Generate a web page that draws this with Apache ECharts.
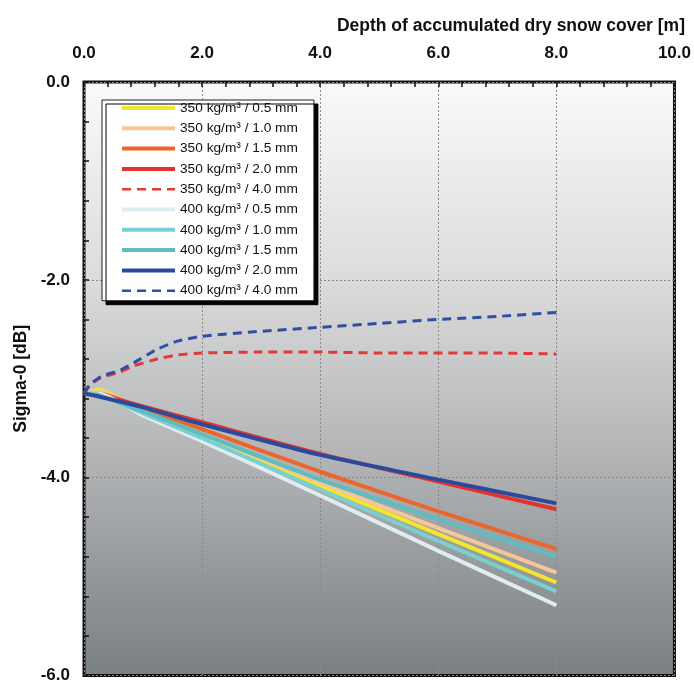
<!DOCTYPE html>
<html>
<head>
<meta charset="utf-8">
<script src="https://cdn.jsdelivr.net/npm/echarts@6/dist/echarts.min.js"></script>
<style>html,body{margin:0;padding:0;background:#fff;}#c{width:694px;height:684px;}</style>
</head>
<body>
<div id="c"></div>
<script>
// Depth (m) sample positions
const xSolid = [0, 0.25, 1, 2, 4, 6, 8];
const xDashed = [0, 0.1, 0.28, 0.62, 0.84, 1.24, 1.58, 2, 3, 4, 5, 6, 7, 8];

// Sigma-0 (dB) series
const s350_05 = [-3.15, -3.11, -3.33, -3.58, -4.08, -4.57, -5.06];
const s350_10 = [-3.15, -3.13, -3.32, -3.56, -4.05, -4.51, -4.96];
const s350_15 = [-3.15, -3.15, -3.30, -3.51, -3.94, -4.34, -4.72];
const s350_20 = [-3.15, -3.16, -3.28, -3.44, -3.76, -4.04, -4.32];
const s350_40 = [-3.15, -3.06, -2.99, -2.93, -2.87, -2.80, -2.76, -2.74, -2.73, -2.73, -2.74, -2.74, -2.74, -2.75];
const s400_05 = [-3.15, -3.15, -3.37, -3.63, -4.18, -4.74, -5.29];
const s400_10 = [-3.15, -3.16, -3.35, -3.60, -4.12, -4.64, -5.15];
const s400_15 = [-3.15, -3.17, -3.33, -3.56, -4.02, -4.42, -4.80];
const s400_20 = [-3.15, -3.18, -3.29, -3.46, -3.77, -4.02, -4.26];
const s400_40 = [-3.15, -3.06, -2.98, -2.91, -2.84, -2.70, -2.62, -2.57, -2.52, -2.48, -2.44, -2.40, -2.37, -2.33];

const seriesNames = [
  '350 kg/m³ / 0.5 mm', '350 kg/m³ / 1.0 mm', '350 kg/m³ / 1.5 mm', '350 kg/m³ / 2.0 mm', '350 kg/m³ / 4.0 mm',
  '400 kg/m³ / 0.5 mm', '400 kg/m³ / 1.0 mm', '400 kg/m³ / 1.5 mm', '400 kg/m³ / 2.0 mm', '400 kg/m³ / 4.0 mm'
];
const seriesValues = [s350_05, s350_10, s350_15, s350_20, s350_40, s400_05, s400_10, s400_15, s400_20, s400_40];
const seriesDashed = [false, false, false, false, true, false, false, false, false, true];
const seriesColors = ['#f2e62e', '#f6c698', '#e9672c', '#e2332f', '#e23a36', '#ddedf0', '#7acfcf', '#5fbdbf', '#2b4a9c', '#2e4fa2'];

const xTicks = [0, 2, 4, 6, 8, 10];
const yTicks = [0, -2, -4, -6];

const font = '"Liberation Sans", Arial, sans-serif';

const series = seriesNames.map((name, i) => {
  const xs = seriesDashed[i] ? xDashed : xSolid;
  return {
    name: name,
    type: 'line',
    data: seriesValues[i].map((v, k) => [xs[k], v]),
    showSymbol: false,
    symbol: 'none',
    smooth: seriesDashed[i] ? 0.12 : 0.2,
    color: seriesColors[i],
    lineStyle: {
      width: seriesDashed[i] ? 3 : 4,
      type: seriesDashed[i] ? [9, 6] : 'solid',
      color: seriesColors[i]
    },
    z: seriesDashed[i] ? 4 : 3
  };
});

const legendData = seriesNames.map((name, i) => ({
  name: name,
  itemStyle: {color: 'rgba(0,0,0,0)', borderWidth: 0, opacity: 0},
  lineStyle: {
    width: seriesDashed[i] ? 2.5 : 4,
    color: seriesColors[i],
    type: seriesDashed[i] ? [9, 6] : 'solid'
  }
}));

const chart = echarts.init(document.getElementById('c'), null, {renderer: 'canvas'});
chart.setOption({
  animation: false,
  backgroundColor: '#ffffff',
  title: {
    text: 'Depth of accumulated dry snow cover [m]',
    right: 4,
    top: 12,
    textStyle: {fontFamily: font, fontWeight: 'bold', fontSize: 17.5, color: '#111'}
  },
  grid: {
    left: 84, right: 15, top: 82, bottom: 5,
    show: true,
    borderColor: '#111',
    borderWidth: 3,
    backgroundColor: {
      type: 'linear', x: 0, y: 0, x2: 0, y2: 1,
      colorStops: [
        {offset: 0, color: '#fafafa'},
        {offset: 0.33, color: '#dcdcdc'},
        {offset: 0.66, color: '#aeb0b2'},
        {offset: 1, color: '#7a7f83'}
      ]
    }
  },
  legend: {
    orient: 'vertical',
    left: 102,
    top: 100,
    itemWidth: 53,
    itemHeight: 14,
    itemGap: 6.3,
    padding: [1, 16, 3, 18],
    backgroundColor: '#ffffff',
    borderColor: '#222',
    borderWidth: 1,
    shadowColor: '#000',
    shadowBlur: 0,
    shadowOffsetX: 4,
    shadowOffsetY: 4,
    textStyle: {fontFamily: font, fontSize: 13.7, color: '#111'},
    data: legendData
  },
  xAxis: {
    type: 'value',
    position: 'top',
    min: xTicks[0],
    max: xTicks[xTicks.length - 1],
    interval: 2,
    axisLine: {show: false},
    axisTick: {show: true, inside: true, length: 5, lineStyle: {color: '#111', width: 1.5}},
    minorTick: {show: true, splitNumber: 5, length: 5, lineStyle: {color: '#111', width: 1.5}},
    axisLabel: {
      margin: 20,
      fontFamily: font, fontWeight: 'bold', fontSize: 17, color: '#111',
      formatter: v => v.toFixed(1)
    },
    splitLine: {show: true, lineStyle: {color: '#8a8a8a', type: [2, 2], width: 1}}
  },
  yAxis: {
    type: 'value',
    min: yTicks[yTicks.length - 1],
    max: yTicks[0],
    interval: 2,
    name: 'Sigma-0 [dB]',
    nameLocation: 'middle',
    nameGap: 54,
    nameTextStyle: {fontFamily: font, fontWeight: 'bold', fontSize: 17.5, color: '#111'},
    axisLine: {show: false},
    axisTick: {show: true, inside: true, length: 5, lineStyle: {color: '#111', width: 1.5}},
    minorTick: {show: true, splitNumber: 5, length: 5, lineStyle: {color: '#111', width: 1.5}},
    axisLabel: {
      margin: 14,
      fontFamily: font, fontWeight: 'bold', fontSize: 17, color: '#111',
      formatter: v => v.toFixed(1)
    },
    splitLine: {show: true, lineStyle: {color: '#8a8a8a', type: [2, 2], width: 1}}
  },
  series: series
});
</script>
</body>
</html>
